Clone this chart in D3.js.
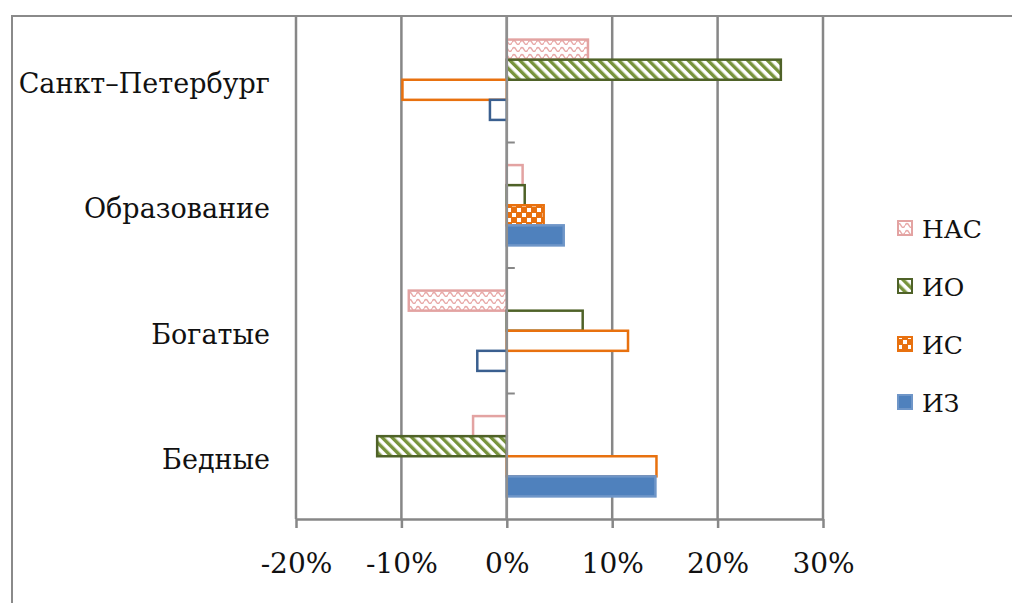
<!DOCTYPE html>
<html>
<head>
<meta charset="utf-8">
<script src="https://cdn.jsdelivr.net/npm/d3@7"></script>
<style>
  body { margin: 0; background: #fff; }
  svg { display: block; font-family: "DejaVu Serif", serif; }
</style>
</head>
<body>
<svg id="chart" width="1012" height="603"></svg>
<script>
const categories = ["Санкт–Петербург", "Образование", "Богатые", "Бедные"]
const seriesNames = ["НАС", "ИО", "ИС", "ИЗ"]
// values in percent, categories top to bottom
const nasValues = [7.7, 1.5, -9.3, -3.2]
const ioValues = [26.0, 1.7, 7.2, -12.3]
const isValues = [-9.9, 3.5, 11.5, 14.2]
const izValues = [-1.6, 5.4, -2.8, 14.1]
// which bars are shown filled (significant)
const nasFilled = [true, false, true, false]
const ioFilled = [true, false, false, true]
const isFilled = [false, true, false, false]
const izFilled = [false, true, false, true]
const xTicks = [-20, -10, 0, 10, 20, 30]

const seriesValues = [nasValues, ioValues, isValues, izValues]
const seriesFilled = [nasFilled, ioFilled, isFilled, izFilled]
const seriesStyle = [
  { stroke: "#e3a3a2", fill: "url(#wave)", solidStroke: "#e3a3a2" },
  { stroke: "#4f6228", fill: "url(#hatch)", solidStroke: "#4f6228" },
  { stroke: "#e8710f", fill: "url(#checker)", solidStroke: "#e8710f" },
  { stroke: "#3a5f8f", fill: "#4f81bd", solidStroke: "#6f96c8" }
]

const svg = d3.select("#chart")
const margin = { top: 17, left: 296, right: 189, bottom: 84 }
const width = +svg.attr("width") - margin.left - margin.right
const height = +svg.attr("height") - margin.top - margin.bottom
const gridColor = "#878787"

// patterns
const defs = svg.append("defs")
const wave = defs.append("pattern").attr("id", "wave")
  .attr("patternUnits", "userSpaceOnUse").attr("width", 8).attr("height", 7)
wave.append("rect").attr("width", 8).attr("height", 7).attr("fill", "#fff")
wave.append("path").attr("d", "M0,4.5 Q2,0.5 4,4.5 T8,4.5")
  .attr("fill", "none").attr("stroke", "#e8a9a8").attr("stroke-width", 1.5)

const hatch = defs.append("pattern").attr("id", "hatch")
  .attr("patternUnits", "userSpaceOnUse").attr("width", 7).attr("height", 7)
  .attr("patternTransform", "rotate(-45)")
hatch.append("rect").attr("width", 7).attr("height", 7).attr("fill", "#fff")
hatch.append("rect").attr("width", 3.4).attr("height", 7).attr("fill", "#77933c")

const checker = defs.append("pattern").attr("id", "checker")
  .attr("patternUnits", "userSpaceOnUse").attr("width", 10).attr("height", 10)
checker.append("rect").attr("width", 10).attr("height", 10).attr("fill", "#e8710f")
checker.append("rect").attr("x", 1).attr("y", 1).attr("width", 4).attr("height", 4).attr("fill", "#fff")
checker.append("rect").attr("x", 6).attr("y", 6).attr("width", 4).attr("height", 4).attr("fill", "#fff")

// outer frame
svg.append("rect")
  .attr("x", 12).attr("y", 16).attr("width", 1100).attr("height", 700)
  .attr("fill", "none").attr("stroke", "#8a8a8a").attr("stroke-width", 2)

const g = svg.append("g")
  .attr("transform", "translate(" + margin.left + "," + margin.top + ")")

const x = d3.scaleLinear().domain([-20, 30]).range([0, width])
const y = d3.scaleBand().domain(categories).range([0, height])
  .paddingInner(0.36).paddingOuter(0.18)
const ySeries = d3.scaleBand().domain(seriesNames).range([0, y.bandwidth()])

// vertical gridlines
g.selectAll(".grid")
  .data(xTicks)
  .enter().append("line")
    .attr("class", "grid")
    .attr("x1", d => x(d)).attr("x2", d => x(d))
    .attr("y1", 0).attr("y2", height)
    .attr("stroke", gridColor).attr("stroke-width", 2.5)

// bottom axis
const xAxis = g.append("g")
  .attr("transform", "translate(0," + height + ")")
  .call(d3.axisBottom(x).tickValues(xTicks).tickFormat(d => d + "%").tickSize(9).tickSizeOuter(0).tickPadding(25))
xAxis.select(".domain").attr("stroke", gridColor).attr("stroke-width", 2.5)
xAxis.selectAll(".tick line").attr("stroke", gridColor).attr("stroke-width", 2.5)
xAxis.selectAll(".tick text")
  .attr("font-family", "DejaVu Serif").attr("font-size", 28).attr("fill", "#111")

// bars
const rows = []
seriesNames.forEach((s, si) => {
  categories.forEach((c, ci) => {
    rows.push({ series: s, si: si, cat: c, value: seriesValues[si][ci], filled: seriesFilled[si][ci] })
  })
})

g.selectAll(".bar")
  .data(rows)
  .enter().append("rect")
    .attr("class", "bar")
    .attr("x", d => x(Math.min(0, d.value)))
    .attr("y", d => y(d.cat) + ySeries(d.series))
    .attr("width", d => Math.abs(x(d.value) - x(0)))
    .attr("height", ySeries.bandwidth())
    .attr("fill", d => d.filled ? seriesStyle[d.si].fill : "#fff")
    .attr("stroke", d => d.filled ? seriesStyle[d.si].solidStroke : seriesStyle[d.si].stroke)
    .attr("stroke-width", 2.5)

// category axis at zero, drawn over bars
g.append("line")
  .attr("x1", x(0)).attr("x2", x(0)).attr("y1", 0).attr("y2", height)
  .attr("stroke", "#8f8f8f").attr("stroke-width", 2.5)

g.selectAll(".cat-tick")
  .data(categories.slice(1))
  .enter().append("line")
    .attr("class", "cat-tick")
    .attr("x1", x(0)).attr("x2", x(0) + 8)
    .attr("y1", d => y(d) - y.step() * y.paddingInner() / 2)
    .attr("y2", d => y(d) - y.step() * y.paddingInner() / 2)
    .attr("stroke", gridColor).attr("stroke-width", 2)

// category labels
svg.selectAll(".cat-label")
  .data(categories)
  .enter().append("text")
    .attr("class", "cat-label")
    .attr("x", 270)
    .attr("y", d => margin.top + y(d) + y.bandwidth() / 2)
    .attr("dy", "0.48em")
    .attr("text-anchor", "end")
    .attr("font-size", 27)
    .attr("fill", "#111")
    .text(d => d)

// legend
const legend = svg.append("g").attr("transform", "translate(897,228)")
const item = legend.selectAll(".item")
  .data(seriesNames)
  .enter().append("g")
    .attr("class", "item")
    .attr("transform", (d, i) => "translate(0," + i * 58 + ")")
item.append("rect")
  .attr("x", 1).attr("y", -7).attr("width", 14).attr("height", 14)
  .attr("fill", (d, i) => seriesStyle[i].fill)
  .attr("stroke", (d, i) => seriesStyle[i].solidStroke)
  .attr("stroke-width", 2)
item.append("text")
  .attr("x", 25).attr("dy", "0.38em")
  .attr("font-size", 25).attr("fill", "#111")
  .text(d => d)
</script>
</body>
</html>
